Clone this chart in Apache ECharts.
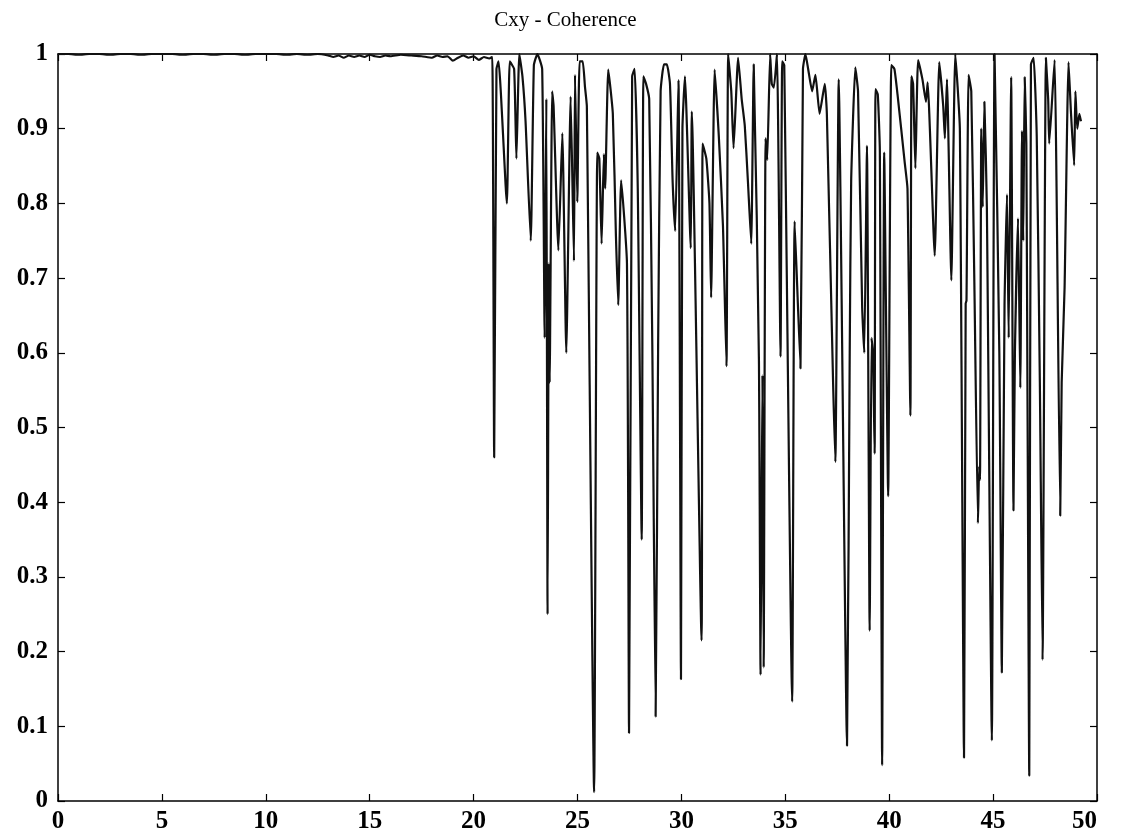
<!DOCTYPE html>
<html><head><meta charset="utf-8">
<script src="https://cdn.jsdelivr.net/npm/echarts@6/dist/echarts.min.js"></script>
<style>html,body{margin:0;padding:0;background:#fff}#c{width:1131px;height:840px}</style>
</head><body><div id="c"></div>
<script>
const titleText = "Cxy - Coherence";
const xTicks = [0,5,10,15,20,25,30,35,40,45,50];
const yTicks = [0,0.1,0.2,0.3,0.4,0.5,0.6,0.7,0.8,0.9,1];
const freq = [
0,0.5,1,1.5,2,2.5,3,3.5,4,4.5,5,5.5,6,6.5,7,7.5,8,8.5,9,9.5,10,10.5,11,11.5,12,12.5,13,13.25,13.5,13.75,14,14.25,14.5,14.75,15,15.25,15.5,15.75,16,16.5,17,17.5,18,18.25,18.5,18.75,19,19.25,19.5,19.75,20,20.25,20.5,20.75,20.9,
20.99,21.1,21.2,21.6,21.74,21.95,22.06,22.2,22.35,22.5,22.75,22.9,23.07,23.3,23.42,23.5,23.56,23.62,23.66,23.78,23.85,
24.08,24.27,24.46,24.67,24.83,24.88,24.99,25.1,25.25,25.36,25.45,25.8,25.95,26.05,26.16,26.27,26.33,26.48,26.7,26.85,26.96,27.1,27.38,27.48,27.63,27.75,27.9,28.09,28.17,28.3,28.45,28.6,28.76,28.88,29.0,29.16,29.3,29.45,29.58,29.7,29.86,29.98,30.05,30.17,
30.45,30.5,30.97,31.02,31.2,31.35,31.43,31.6,31.8,32.0,32.17,32.25,32.4,32.51,32.73,32.9,33.05,33.2,33.36,33.48,33.73,33.81,33.9,33.96,34.05,34.13,34.27,34.35,34.45,34.6,34.77,34.85,34.95,
35.33,35.45,35.73,35.85,35.97,36.1,36.29,36.45,36.65,36.9,37.0,37.3,37.41,37.57,37.97,38.1,38.17,38.37,38.5,38.7,38.8,38.93,39.06,39.15,39.22,39.3,39.34,39.45,39.55,39.66,39.76,39.95,
40.1,40.25,40.4,40.75,40.88,41.02,41.07,41.15,41.26,41.39,41.6,41.77,41.85,42.19,42.41,42.6,42.68,42.78,42.99,43.18,43.4,43.6,43.68,43.72,43.82,43.95,44.1,44.27,44.33,44.37,44.43,44.5,44.58,44.7,44.94,
45.07,45.3,45.42,45.55,45.67,45.75,45.87,45.98,46.05,46.2,46.31,46.39,46.45,46.52,46.6,46.74,46.82,46.95,47.1,47.25,47.38,47.54,47.65,47.7,47.96,48.05,48.23,48.3,48.44,48.63,48.75,48.9,48.96,49.05,49.15,49.23
];
const coh = [
1.0,1.0,0.999,1.0,1.0,0.999,1.0,1.0,0.999,1.0,1.0,1.0,0.999,1.0,1.0,0.999,1.0,1.0,0.999,1.0,1.0,1.0,0.999,1.0,0.999,1.0,0.998,0.996,0.998,0.995,0.998,0.996,0.998,0.996,0.999,0.997,0.996,0.998,0.997,0.999,0.998,0.997,0.995,0.998,0.996,0.997,0.991,0.995,0.998,0.995,0.997,0.992,0.996,0.994,0.996,
0.46,0.98,0.99,0.80,0.99,0.98,0.86,1.0,0.97,0.91,0.75,0.985,1.0,0.98,0.62,0.94,0.25,0.72,0.56,0.95,0.93,
0.737,0.894,0.60,0.943,0.723,0.972,0.802,0.99,0.99,0.956,0.93,0.012,0.868,0.86,0.746,0.866,0.82,0.979,0.92,0.756,0.664,0.831,0.72,0.091,0.97,0.98,0.82,0.35,0.97,0.96,0.94,0.61,0.113,0.61,0.95,0.986,0.986,0.96,0.828,0.763,0.965,0.163,0.90,0.97,
0.74,0.923,0.215,0.88,0.86,0.80,0.674,0.979,0.89,0.77,0.582,1.0,0.95,0.874,0.995,0.94,0.904,0.83,0.746,0.986,0.592,0.169,0.57,0.179,0.887,0.858,1.0,0.96,0.955,1.0,0.595,0.99,0.985,
0.133,0.776,0.579,0.98,1.0,0.98,0.95,0.972,0.92,0.96,0.92,0.56,0.454,0.966,0.074,0.60,0.83,0.982,0.95,0.66,0.60,0.877,0.228,0.62,0.60,0.465,0.953,0.946,0.87,0.048,0.868,0.408,
0.985,0.98,0.946,0.854,0.82,0.516,0.97,0.96,0.847,0.992,0.966,0.936,0.962,0.73,0.989,0.93,0.887,0.966,0.697,1.0,0.90,0.058,0.666,0.67,0.972,0.95,0.69,0.372,0.448,0.43,0.90,0.795,0.936,0.795,0.081,
1.0,0.60,0.172,0.664,0.812,0.62,0.969,0.389,0.60,0.78,0.553,0.897,0.75,0.969,0.88,0.034,0.986,0.995,0.89,0.56,0.189,0.995,0.94,0.88,0.992,0.83,0.382,0.56,0.687,0.989,0.92,0.851,0.95,0.90,0.92,0.91
];
const points = freq.map((f,i)=>[f, coh[i]]);
const chart = echarts.init(document.getElementById('c'));
const FONT = '"Liberation Serif","DejaVu Serif",serif';
const lbl = {color:'#000', fontFamily:FONT, fontSize:25, fontWeight:'bold'};
const axLine = {show:true, onZero:false, lineStyle:{color:'#000', width:1.5}};
const tick = {show:true, inside:true, length:7, lineStyle:{color:'#000', width:1.2}};
chart.setOption({
  animation:false,
  backgroundColor:'#fff',
  title:{text:titleText, left:'center', top:5, textStyle:{fontFamily:FONT, fontSize:21, fontWeight:'normal', color:'#000'}},
  grid:{left:58, right:34, top:54, bottom:39, containLabel:false},
  xAxis:[
    {type:'value', min:xTicks[0], max:xTicks[xTicks.length-1], interval:5, position:'bottom',
     axisLine:axLine, axisTick:tick, axisLabel:Object.assign({margin:8, alignMaxLabel:'right'}, lbl), splitLine:{show:false}},
    {type:'value', min:xTicks[0], max:xTicks[xTicks.length-1], interval:5, position:'top',
     axisLine:axLine, axisTick:tick, axisLabel:{show:false}, splitLine:{show:false}}
  ],
  yAxis:[
    {type:'value', min:yTicks[0], max:yTicks[yTicks.length-1], interval:0.1, position:'left',
     axisLine:axLine, axisTick:tick, axisLabel:Object.assign({margin:10}, lbl), splitLine:{show:false}},
    {type:'value', min:yTicks[0], max:yTicks[yTicks.length-1], interval:0.1, position:'right',
     axisLine:axLine, axisTick:tick, axisLabel:{show:false}, splitLine:{show:false}}
  ],
  series:[{type:'line', data:points, showSymbol:false, symbol:'none', xAxisIndex:0, yAxisIndex:0,
    lineStyle:{color:'#111', width:2.2}, smooth:0.15}]
});
</script></body></html>
